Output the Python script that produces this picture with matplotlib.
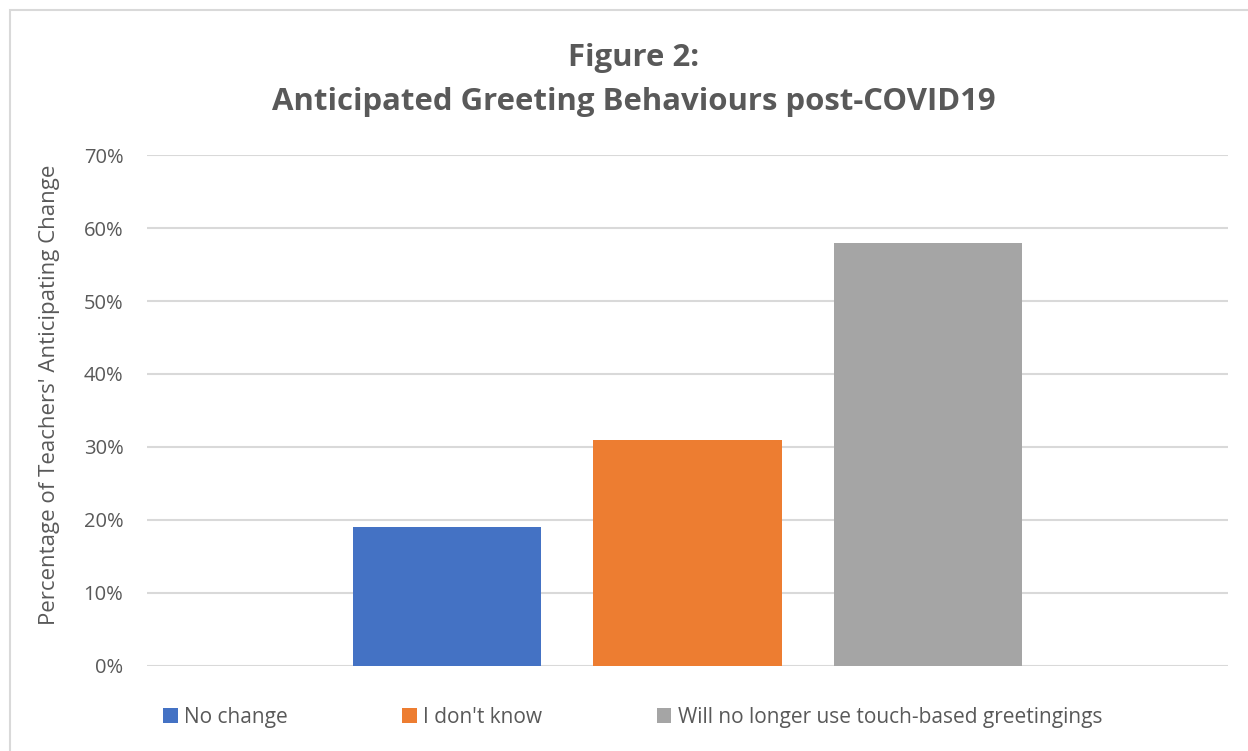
import matplotlib.pyplot as plt
from matplotlib.patches import Rectangle
from matplotlib.ticker import PercentFormatter

series = ["No change", "I don't know", "Will no longer use touch-based greetingings"]
values = [19, 31, 58]
colors = ["#4472c4", "#ed7d31", "#a5a5a5"]
yticks = [0, 10, 20, 30, 40, 50, 60, 70]

plt.rcParams["font.family"] = ["Open Sans", "DejaVu Sans"]
text_color = "#595959"

fig = plt.figure(figsize=(12.48, 7.51), dpi=100)
ax = fig.add_axes([0.1178, 0.1132, 0.8662, 0.6804])

# frame around the chart area
fig.patches.append(Rectangle((0.008, -0.05), 1.1, 1.037, transform=fig.transFigure,
                             fill=False, edgecolor="#d9d9d9", linewidth=1.5))

positions = [-1, 0, 1]
bars = []
for x, v, c, name in zip(positions, values, colors, series):
    bars.append(ax.bar(x, v, width=0.783, color=c, label=name, zorder=3))

ax.set_xlim(-2.25, 2.25)
ax.set_ylim(0, 70)
ax.set_yticks(yticks)
ax.yaxis.set_major_formatter(PercentFormatter(decimals=0))
ax.set_xticks([])
ax.grid(axis="y", color="#d9d9d9", linewidth=1.5, zorder=0)
for s in ax.spines.values():
    s.set_visible(False)
ax.tick_params(axis="y", length=0, pad=17, labelsize=14.5, labelcolor=text_color)

fig.text(0.040, 0.474, "Percentage of Teachers' Anticipating Change", rotation=90,
         ha="center", va="center", fontsize=16, color=text_color)

fig.text(0.508, 0.894, "Figure 2:\nAnticipated Greeting Behaviours post-COVID19",
         ha="center", va="center", fontsize=22.4, fontweight="bold",
         color=text_color, linespacing=1.6)

fig.legend(handles=[b[0] for b in bars], labels=series, loc="center",
           bbox_to_anchor=(0.507, 0.045), ncol=3, frameon=False, fontsize=15,
           labelcolor=text_color, handlelength=0.7, handleheight=0.7,
           handletextpad=0.3, columnspacing=5.5)

fig.savefig("out.png", dpi=100)
